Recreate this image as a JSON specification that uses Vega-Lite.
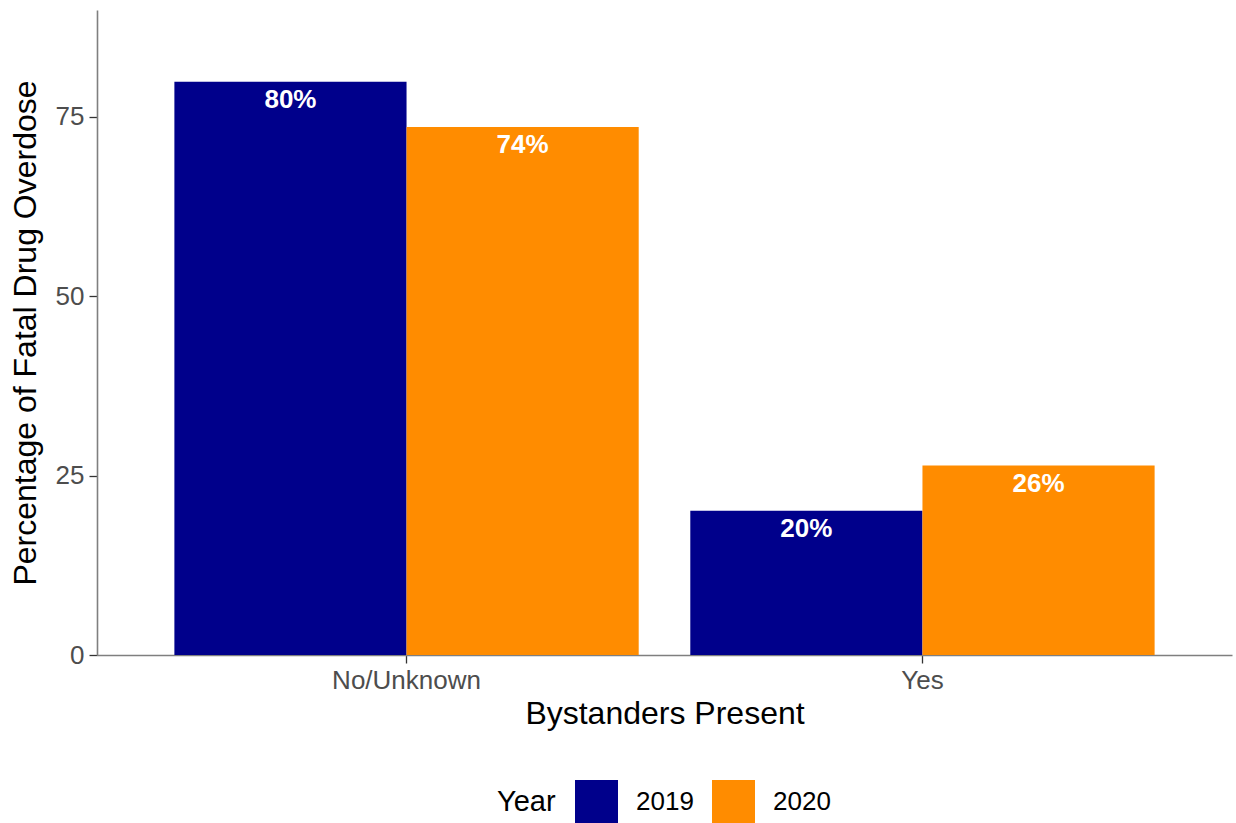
{
  "$schema": "https://vega.github.io/schema/vega-lite/v6.json",
  "autosize": "none",
  "width": 1135,
  "height": 645,
  "padding": {"left": 97, "top": 10, "right": 4, "bottom": 168},
  "background": "white",
  "config": {
    "font": "Liberation Sans",
    "view": {"stroke": null},
    "axis": {
      "domainColor": "#7f7f7f",
      "domainWidth": 1.6,
      "tickColor": "#333333",
      "tickWidth": 1.3,
      "tickSize": 8,
      "labelColor": "#4d4d4d",
      "labelFontSize": 26,
      "labelFont": "Liberation Sans",
      "titleFont": "Liberation Sans",
      "titleFontSize": 32,
      "titleFontWeight": "normal",
      "titleColor": "#000000",
      "grid": false
    }
  },
  "data": {
    "values": [
      {"bystanders": "No/Unknown", "year": "2019", "pct": 79.9, "label": "80%"},
      {"bystanders": "No/Unknown", "year": "2020", "pct": 73.6, "label": "74%"},
      {"bystanders": "Yes", "year": "2019", "pct": 20.1, "label": "20%"},
      {"bystanders": "Yes", "year": "2020", "pct": 26.4, "label": "26%"}
    ]
  },
  "encoding": {
    "x": {
      "field": "bystanders",
      "type": "nominal",
      "title": "Bystanders Present",
      "scale": {"paddingInner": 0.1, "paddingOuter": 0.15},
      "axis": {"labelAngle": 0, "labelPadding": 4, "titlePadding": 5}
    },
    "xOffset": {"field": "year", "type": "nominal", "scale": {"paddingInner": 0, "paddingOuter": 0}},
    "y": {
      "field": "pct",
      "type": "quantitative",
      "title": "Percentage of Fatal Drug Overdose",
      "scale": {"domain": [0, 89.9], "nice": false},
      "axis": {"values": [0, 25, 50, 75], "labelPadding": 5, "titlePadding": 13}
    }
  },
  "layer": [
    {
      "mark": {"type": "bar"},
      "encoding": {
        "color": {
          "field": "year",
          "type": "nominal",
          "title": "Year",
          "scale": {"domain": ["2019", "2020"], "range": ["#00008B", "#FF8C00"]},
          "legend": {
            "orient": "none",
            "direction": "horizontal",
            "legendX": 400,
            "legendY": 770,
            "titleOrient": "left",
            "titleFontSize": 29,
            "titleFontWeight": "normal",
            "titleColor": "#000000",
            "titlePadding": 19,
            "titleBaseline": "middle",
            "labelFontSize": 26,
            "labelColor": "#000000",
            "labelOffset": 18,
            "symbolType": "square",
            "symbolSize": 1849,
            "symbolStrokeWidth": 0,
            "symbolOpacity": 1,
            "columnPadding": 18
          }
        }
      }
    },
    {
      "mark": {"type": "text", "color": "white", "fontWeight": "bold", "fontSize": 26, "baseline": "middle", "dy": 18},
      "encoding": {"text": {"field": "label"}}
    }
  ]
}
